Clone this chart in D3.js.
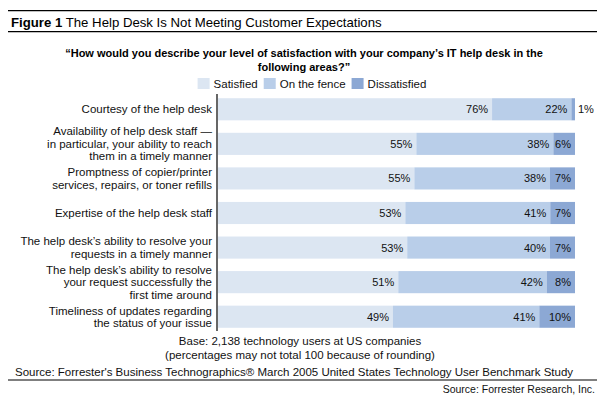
<!DOCTYPE html>
<html>
<head>
<meta charset="utf-8">
<script src="https://cdn.jsdelivr.net/npm/d3@7"></script>
<style>
  html, body { margin: 0; padding: 0; background: #fff; }
  svg { display: block; font-family: "Liberation Sans", Arial, sans-serif; }
</style>
</head>
<body>
<svg id="chart" width="611" height="405"></svg>
<script>
// ---- data ----
const categories = [
  ["Courtesy of the help desk"],
  ["Availability of help desk staff —", "in particular, your ability to reach", "them in a timely manner"],
  ["Promptness of copier/printer", "services, repairs, or toner refills"],
  ["Expertise of the help desk staff"],
  ["The help desk’s ability to resolve your", "requests in a timely manner"],
  ["The help desk’s ability to resolve", "your request successfully the", "first time around"],
  ["Timeliness of updates regarding", "the status of your issue"]
];
const seriesNames = ["Satisfied", "On the fence", "Dissatisfied"];
const satisfied    = [76, 55, 55, 53, 53, 51, 49];
const onTheFence   = [22, 38, 38, 41, 40, 42, 41];
const dissatisfied = [1, 6, 7, 7, 7, 8, 10];

const titleBold = "Figure 1";
const titleRest = " The Help Desk Is Not Meeting Customer Expectations";
const questionLines = [
  "“How would you describe your level of satisfaction with your company’s IT help desk in the",
  "following areas?”"
];
const footLines = [
  "Base: 2,138 technology users at US companies",
  "(percentages may not total 100 because of rounding)"
];
const sourceLine = "Source: Forrester's Business Technographics® March 2005 United States Technology User Benchmark Study";
const creditLine = "Source: Forrester Research, Inc.";

// ---- setup ----
const svg = d3.select("#chart");
const colors = ["#dce6f2", "#b9cee9", "#8ca8d4"];
const textColor = "#111";
const FS = 11.5;

// rules
[10.7, 31.7, 380].forEach(y => {
  svg.append("line").attr("x1", 8).attr("x2", 597).attr("y1", y).attr("y2", y)
    .attr("stroke", "#000").attr("stroke-width", 1.2);
});

// title
const t = svg.append("text").attr("x", 11).attr("y", 26.5)
  .attr("font-size", 13.2).attr("fill", "#000");
t.append("tspan").attr("font-weight", "bold").text(titleBold);
t.append("tspan").text(titleRest);

// question
questionLines.forEach((s, i) => {
  svg.append("text").attr("x", 304).attr("y", 57 + i * 14)
    .attr("text-anchor", "middle").attr("font-weight", "bold")
    .attr("font-size", 11).attr("fill", "#000").text(s);
});

// legend
const legend = svg.append("g");
let lx = 0;
seriesNames.forEach((name, i) => {
  const g = legend.append("g").attr("transform", `translate(${lx},0)`);
  g.append("rect").attr("x", 0).attr("y", 78).attr("width", 12).attr("height", 11).attr("fill", colors[i]);
  const tx = g.append("text").attr("x", 16).attr("y", 87.5).attr("font-size", FS)
    .attr("fill", textColor).text(name);
  lx += 16 + tx.node().getComputedTextLength() + 6;
});
const legendW = lx - 6;
legend.attr("transform", `translate(${312 - legendW / 2},0)`);

// scales
const x = d3.scaleLinear().domain([0, 1]).range([218, 575]);
const y = d3.scaleBand().domain(d3.range(categories.length))
  .range([92, 334]).paddingInner(0.36).paddingOuter(0.18);

const rows = categories.map((c, i) => {
  const vals = [satisfied[i], onTheFence[i], dissatisfied[i]];
  const total = d3.sum(vals);
  let acc = 0;
  return vals.map((v, k) => {
    const s = { row: i, k, v, x0: acc / total, x1: (acc + v) / total };
    acc += v;
    return s;
  });
});

// bars
const segs = rows.flat();
svg.append("g").selectAll("rect").data(segs).join("rect")
  .attr("x", d => x(d.x0))
  .attr("width", d => x(d.x1) - x(d.x0))
  .attr("y", d => y(d.row))
  .attr("height", y.bandwidth())
  .attr("fill", d => colors[d.k]);

// value labels
const vl = svg.append("g");
segs.forEach(d => {
  const txt = vl.append("text").attr("font-size", 11).attr("fill", textColor)
    .attr("y", y(d.row) + y.bandwidth() / 2 + 4).text(d.v + "%");
  const w = txt.node().getComputedTextLength();
  const segW = x(d.x1) - x(d.x0);
  if (segW < w + 2) {
    txt.attr("x", x(d.x1) + 3).attr("text-anchor", "start");
  } else {
    txt.attr("x", x(d.x1) - 4).attr("text-anchor", "end");
  }
});

// category labels
const lineH = 12.4;
const cl = svg.append("g");
categories.forEach((lines, i) => {
  const cy = y(i) + y.bandwidth() / 2;
  const startY = cy - (lines.length - 1) * lineH / 2 + 4;
  lines.forEach((s, j) => {
    cl.append("text").attr("x", 212).attr("y", startY + j * lineH)
      .attr("text-anchor", "end").attr("font-size", FS).attr("fill", textColor).text(s);
  });
});

// axis line
svg.append("line").attr("x1", 217).attr("x2", 217).attr("y1", 94).attr("y2", 331)
  .attr("stroke", "#000").attr("stroke-width", 1.2);

// footer
footLines.forEach((s, i) => {
  svg.append("text").attr("x", 300).attr("y", 345 + i * 13.5)
    .attr("text-anchor", "middle").attr("font-size", FS).attr("fill", textColor).text(s);
});
svg.append("text").attr("x", 15).attr("y", 375.5).attr("font-size", FS)
  .attr("fill", textColor).text(sourceLine);
svg.append("text").attr("x", 595).attr("y", 393).attr("text-anchor", "end")
  .attr("font-size", 10.5).attr("fill", textColor).text(creditLine);
</script>
</body>
</html>
